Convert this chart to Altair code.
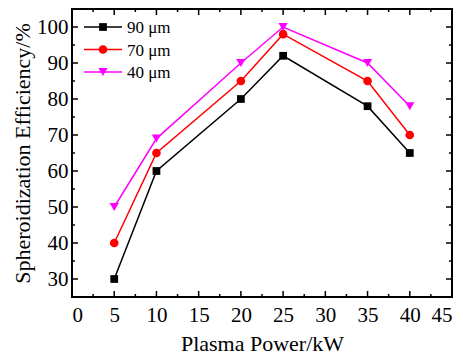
import altair as alt
import pandas as pd

power = [5, 10, 20, 25, 35, 40]
eff_90 = [30, 60, 80, 92, 78, 65]
eff_70 = [40, 65, 85, 98, 85, 70]
eff_40 = [50, 69, 90, 100, 90, 78]
series = ["90 μm", "70 μm", "40 μm"]
colors = ["#000000", "#ff0000", "#ff00ff"]
shapes = ["square", "circle", "triangle-down"]
sizes = [60, 75, 85]
x_ticks = [0, 5, 10, 15, 20, 25, 30, 35, 40, 45]
x_minor = [2.5, 7.5, 12.5, 17.5, 22.5, 27.5, 32.5, 37.5, 42.5]
y_ticks = [30, 40, 50, 60, 70, 80, 90, 100]
y_minor = [35, 45, 55, 65, 75, 85, 95]

W, H = 380, 288
FONT = "Liberation Serif"

rows = []
for s, vals in zip(series, [eff_90, eff_70, eff_40]):
    for p, v in zip(power, vals):
        rows.append({"series": s, "power": p, "eff": v})
df = pd.DataFrame(rows)

xs = alt.Scale(domain=[0, 45], nice=False, zero=False)
ys = alt.Scale(domain=[25, 105], nice=False, zero=False)
cs = alt.Scale(domain=series, range=colors)

x_enc = alt.X("power:Q", scale=xs, axis=alt.Axis(
    values=x_ticks, title="Plasma Power/kW", grid=False, domain=False, ticks=False,
    tickSize=0, labelPadding=7, titlePadding=8, labelFont=FONT, labelFontSize=21,
    titleFont=FONT, titleFontSize=22, titleFontWeight="normal", labelColor="black",
    titleColor="black", format="d"))
y_enc = alt.Y("eff:Q", scale=ys, axis=alt.Axis(
    values=y_ticks, title="Spheroidization Efficiency/%", grid=False, domain=False,
    ticks=False, tickSize=0, labelPadding=4, titlePadding=2, labelFont=FONT,
    labelFontSize=21, titleFont=FONT, titleFontSize=22, titleFontWeight="normal",
    labelColor="black", titleColor="black", format="d"))

base = alt.Chart(df)
lines = base.mark_line(strokeWidth=1.5).encode(
    x=x_enc, y=y_enc,
    color=alt.Color("series:N", scale=cs, legend=None),
    detail="series:N",
)
layers = [lines]
for s, shp, sz in zip(series, shapes, sizes):
    layers.append(
        base.transform_filter(alt.datum.series == s)
        .mark_point(shape=shp, filled=True, size=sz, opacity=1)
        .encode(x=alt.X("power:Q", scale=xs), y=alt.Y("eff:Q", scale=ys),
                color=alt.Color("series:N", scale=cs, legend=None))
    )

# legend (drawn as marks, top-left inside the plot)
for i, (s, col, shp, sz) in enumerate(zip(series, colors, shapes, sizes)):
    ly = 18 + 22.5 * i
    ld = alt.Chart(pd.DataFrame({"label": [s]}))
    layers.append(ld.mark_rule(color=col, strokeWidth=1.5).encode(
        x=alt.value(12), x2=alt.value(50), y=alt.value(ly)))
    layers.append(ld.mark_point(shape=shp, filled=True, size=sz, color=col, opacity=1).encode(
        x=alt.value(31), y=alt.value(ly)))
    layers.append(ld.mark_text(align="left", baseline="middle", font=FONT, fontSize=17,
                               color="black").encode(
        x=alt.value(55), y=alt.value(ly + 1), text="label:N"))

def tick_layer(vals, kind, length):
    d = pd.DataFrame({"v": vals})
    c = alt.Chart(d).mark_rule(color="black", strokeWidth=1.5)
    if kind == "bottom":
        return c.encode(x=alt.X("v:Q", scale=xs), y=alt.value(H), y2=alt.value(H - length))
    if kind == "top":
        return c.encode(x=alt.X("v:Q", scale=xs), y=alt.value(0), y2=alt.value(length))
    if kind == "left":
        return c.encode(y=alt.Y("v:Q", scale=ys), x=alt.value(0), x2=alt.value(length))
    return c.encode(y=alt.Y("v:Q", scale=ys), x=alt.value(W), x2=alt.value(W - length))

for side in ["bottom", "top"]:
    layers.append(tick_layer(x_ticks, side, 6))
    layers.append(tick_layer(x_minor, side, 3))
for side in ["left", "right"]:
    layers.append(tick_layer(y_ticks, side, 6))
    layers.append(tick_layer(y_minor, side, 3))

chart = alt.layer(*layers).properties(
    width=W, height=H,
    autosize=alt.AutoSizeParams(type="none"),
    padding={"left": 64, "top": 1, "right": 3, "bottom": 60},
).configure_view(stroke="black", strokeWidth=2)

chart.save("out.html", embed_options={"renderer": "svg", "actions": False})
